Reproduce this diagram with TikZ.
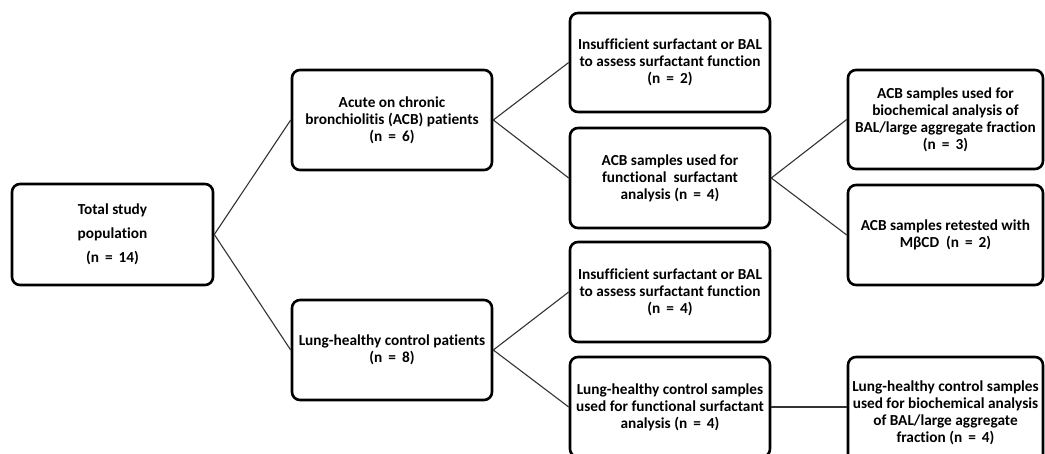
\documentclass[tikz,border=0pt]{standalone}
\usepackage{fontspec}
\setmainfont{Carlito}[Ligatures=NoCommon]
\tikzset{
  flowbox/.style={draw=black, line width=2.6pt, rounded corners=8pt, fill=white,
    minimum width=#1, align=center, inner sep=0pt,
    font=\fontsize{15.3}{17}\selectfont\bfseries},
  flowbox/.default=200pt,
  branch/.style={draw=black!80, line width=1.1pt}
}
\begin{document}
\begin{tikzpicture}[x=1pt,y=-1pt]
  \useasboundingbox[fill=white] (0,0) rectangle (1045,453);

  \node[flowbox=201pt, minimum height=101pt] (total) at (112.5,234.5){Total study\\[7pt]population\\[7pt](n\,\ =\,\ 14)};

  \node[flowbox, minimum height=100pt] (acb) at (392,120){Acute on chronic\\bronchiolitis (ACB) patients\\(n\,\ =\,\ 6)};
  \node[flowbox, minimum height=100pt] (lhc) at (392,350){Lung-healthy control patients\\(n\,\ =\,\ 8)};

  \node[flowbox, minimum height=99pt] (insacb) at (670,62.5){Insufficient surfactant or BAL\\to assess surfactant function\\(n\,\ =\,\ 2)};
  \node[flowbox, minimum height=100pt] (acbfun) at (670,178){ACB samples used for\\functional~ surfactant\\analysis (n\,\ =\,\ 4)};
  \node[flowbox, minimum height=100pt] (inslhc) at (670,292){Insufficient surfactant or BAL\\to assess surfactant function\\(n\,\ =\,\ 4)};
  \node[flowbox, minimum height=100pt] (lhcfun) at (670,407){Lung-healthy control samples\\used for functional surfactant\\analysis (n\,\ =\,\ 4)};

  \node[flowbox=195pt, minimum height=99pt] (acbbio) at (945.5,119.5){ACB samples used for\\biochemical analysis of\\BAL/large aggregate fraction\\(n\,\ =\,\ 3)};
  \node[flowbox=195pt, minimum height=100pt] (acbret) at (945.5,235){ACB samples retested with\\Mβ{}CD~ (n\,\ =\,\ 2)};
  \node[flowbox=195pt, minimum height=112pt] (lhcbio) at (945.5,413){Lung-healthy control samples\\used for biochemical analysis\\of BAL/large aggregate\\fraction (n\,\ =\,\ 4)};

  % branches
  \draw[branch] (total.east) -- (acb.west);
  \draw[branch] (total.east) -- (lhc.west);
  \draw[branch] (acb.east) -- (insacb.west);
  \draw[branch] (acb.east) -- (acbfun.west);
  \draw[branch] (lhc.east) -- (inslhc.west);
  \draw[branch] (lhc.east) -- (lhcfun.west);
  \draw[branch] (acbfun.east) -- (acbbio.west);
  \draw[branch] (acbfun.east) -- (acbret.west);
  \draw[branch] (lhcfun.east) -- (lhcfun.east -| lhcbio.west);
\end{tikzpicture}
\end{document}
